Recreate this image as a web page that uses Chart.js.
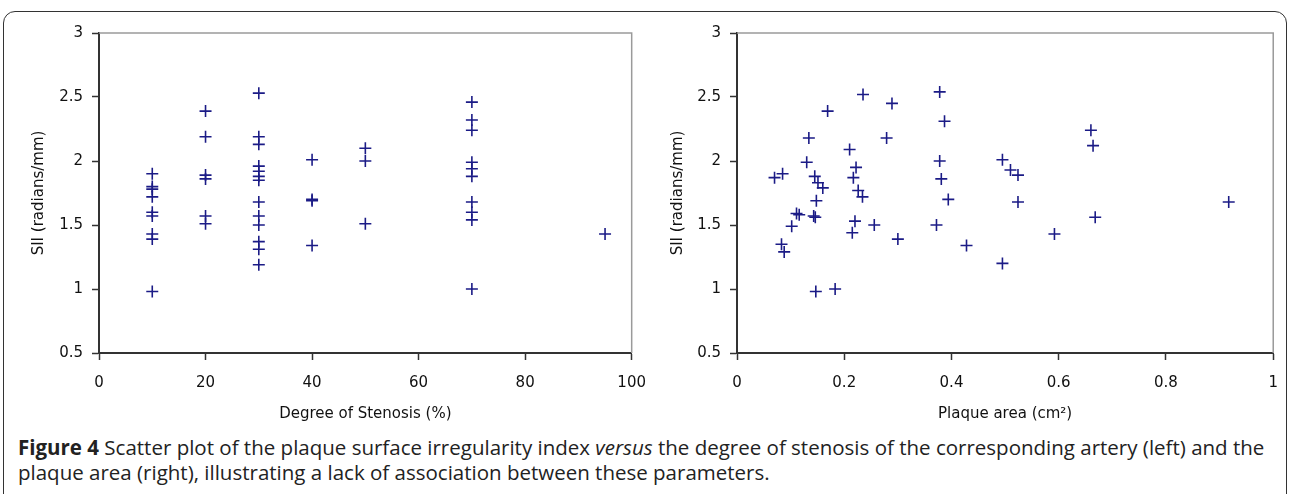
<!DOCTYPE html>
<html>
<head>
<meta charset="utf-8">
<script src="https://cdn.jsdelivr.net/npm/chart.js@4.4.1/dist/chart.umd.min.js"></script>
<style>
  html, body { margin: 0; padding: 0; background: #fff; }
  body { width: 1292px; height: 494px; position: relative; overflow: hidden; }
  #frame { position: absolute; left: 3px; top: 11px; width: 1284px; height: 600px;
           border: 1.5px solid #333; border-radius: 12px; box-sizing: border-box; }
  #c1wrap { position: absolute; left: 0; top: 0; width: 660px; height: 425px; }
  #c2wrap { position: absolute; left: 650px; top: 0; width: 642px; height: 425px; }
  #caption { position: absolute; left: 18px; top: 435px; font-family: "Open Sans", sans-serif;
             font-size: 20.5px; line-height: 25px; color: #222; white-space: nowrap; }
</style>
</head>
<body>
<div id="frame"></div>
<div id="c1wrap"><canvas id="c1" width="660" height="425"></canvas></div>
<div id="c2wrap"><canvas id="c2" width="642" height="425"></canvas></div>
<div id="caption"><b>Figure 4</b> Scatter plot of the plaque surface irregularity index <i>versus</i> the degree of stenosis of the corresponding artery (left) and the<br>plaque area (right), illustrating a lack of association between these parameters.</div>
<script>
// ---- data ----
const stenosisX = [10,10,10,10,10,10,10,10,10,
                   20,20,20,20,20,20,
                   30,30,30,30,30,30,30,30,30,30,30,30,30,
                   40,40,40,40,
                   50,50,50,
                   70,70,70,70,70,70,70,70,70,70,
                   95];
const stenosisSII = [1.90,1.80,1.78,1.72,1.60,1.57,1.43,1.39,0.98,
                     2.39,2.19,1.89,1.86,1.57,1.51,
                     2.53,2.19,2.13,1.96,1.92,1.88,1.85,1.68,1.57,1.50,1.37,1.31,1.19,
                     2.01,1.70,1.69,1.34,
                     2.10,2.00,1.51,
                     2.46,2.32,2.24,1.99,1.94,1.88,1.68,1.60,1.54,1.00,
                     1.43];
const areaX = [0.070,0.085,0.169,0.134,0.130,0.235,0.289,0.279,0.378,0.387,0.378,0.381,0.394,0.372,
               0.428,0.495,0.495,0.210,0.222,0.217,0.226,0.234,0.220,0.215,0.256,0.300,0.145,0.151,
               0.160,0.148,0.111,0.116,0.143,0.146,0.102,0.083,0.088,0.147,0.183,0.660,0.664,0.510,
               0.524,0.524,0.592,0.668,0.917];
const areaSII = [1.87,1.90,2.39,2.18,1.99,2.52,2.45,2.18,2.54,2.31,2.00,1.86,1.70,1.50,
                 1.34,1.20,2.01,2.09,1.95,1.87,1.77,1.72,1.53,1.44,1.50,1.39,1.88,1.83,
                 1.79,1.69,1.59,1.58,1.57,1.56,1.49,1.35,1.29,0.98,1.00,2.24,2.12,1.93,
                 1.89,1.68,1.43,1.56,1.68];
const yTicks = [0.5, 1, 1.5, 2, 2.5, 3];
const yTickLabels = ['0.5', '1', '1.5', '2', '2.5', '3'];
const stenosisTicks = [0, 20, 40, 60, 80, 100];
const stenosisTickLabels = ['0', '20', '40', '60', '80', '100'];
const areaTicks = [0, 0.2, 0.4, 0.6, 0.8, 1];
const areaTickLabels = ['0', '0.2', '0.4', '0.6', '0.8', '1'];
const yTitle = 'SII (radians/mm)';
const stenosisTitle = 'Degree of Stenosis (%)';
const areaTitle = 'Plaque area (cm\u00B2)';

// ---- styles ----
const MARK = '#1b1b86';
const AXIS = '#333';
const FONT = { family: 'DejaVu Sans', size: 15 };

const framePlugin = {
  id: 'frame',
  afterDraw(chart) {
    const { ctx, chartArea: a } = chart;
    ctx.save();
    ctx.strokeStyle = '#9a9a9a';
    ctx.lineWidth = 1.5;
    ctx.beginPath();
    ctx.moveTo(a.left, a.top);
    ctx.lineTo(a.right, a.top);
    ctx.lineTo(a.right, a.bottom);
    ctx.stroke();
    ctx.restore();
  }
};

function makeChart(id, xs, ys, xTicks, xLabels, xTitle, pad, yWidth) {
  const pts = xs.map((x, i) => ({ x: x, y: ys[i] }));
  return new Chart(document.getElementById(id), {
    type: 'scatter',
    data: { datasets: [{ data: pts, pointStyle: 'cross', pointRadius: 6, pointHoverRadius: 6,
                         borderColor: MARK, backgroundColor: MARK, pointBorderWidth: 1.6 }] },
    options: {
      responsive: false, animation: false,
      layout: { padding: pad },
      plugins: { legend: { display: false }, tooltip: { enabled: false } },
      scales: {
        x: {
          type: 'linear', min: xTicks[0], max: xTicks[xTicks.length - 1],
          afterBuildTicks: s => { s.ticks = xTicks.map(v => ({ value: v })); },
          ticks: { color: '#111', font: FONT, padding: 14, maxRotation: 0,
                   callback: (v, i) => xLabels[i] },
          grid: { drawOnChartArea: false, drawTicks: true, tickLength: 7, tickColor: AXIS, tickWidth: 1.5 },
          border: { color: AXIS, width: 2 },
          title: { display: true, text: xTitle, color: '#111', font: FONT, padding: { top: 1, bottom: 2 } },
          afterFit: s => { s.height = 72; }
        },
        y: {
          type: 'linear', min: yTicks[0], max: yTicks[yTicks.length - 1],
          afterBuildTicks: s => { s.ticks = yTicks.map(v => ({ value: v })); },
          ticks: { color: '#111', font: FONT, padding: 9,
                   callback: (v, i) => yTickLabels[i] },
          grid: { drawOnChartArea: false, drawTicks: true, tickLength: 7, tickColor: AXIS, tickWidth: 1.5 },
          border: { color: AXIS, width: 2 },
          title: { display: true, text: yTitle, color: '#111', font: FONT, padding: 0 },
          afterFit: s => { s.width = yWidth; }
        }
      }
    },
    plugins: [framePlugin]
  });
}

makeChart('c1', stenosisX, stenosisSII, stenosisTicks, stenosisTickLabels, stenosisTitle,
          { left: 30, top: 33, right: 24, bottom: 0 }, 69);
makeChart('c2', areaX, areaSII, areaTicks, areaTickLabels, areaTitle,
          { left: 19, top: 33, right: 18, bottom: 0 }, 68);
</script>
</body>
</html>
